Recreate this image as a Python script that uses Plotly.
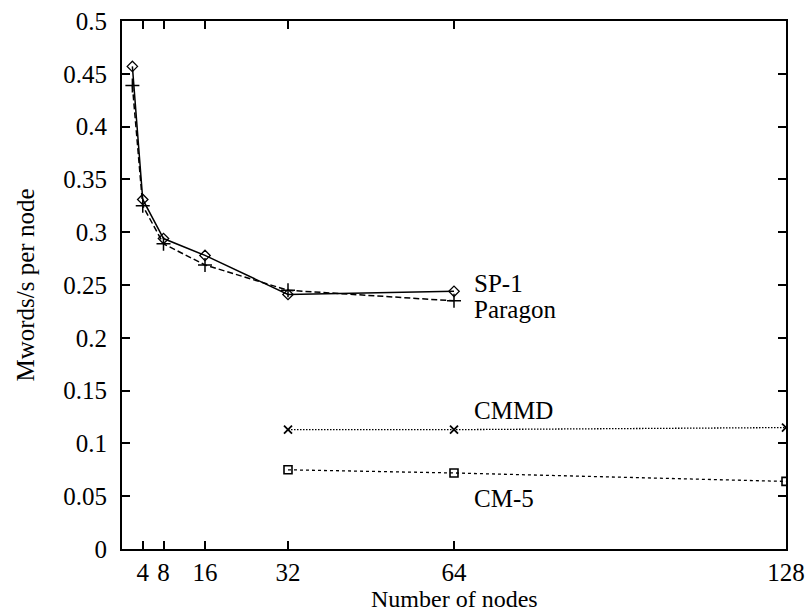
import plotly.graph_objects as go

sp1_x = [2, 4, 8, 16, 32, 64]
sp1_y = [0.457, 0.331, 0.294, 0.278, 0.241, 0.244]
paragon_x = [2, 4, 8, 16, 32, 64]
paragon_y = [0.439, 0.325, 0.289, 0.269, 0.245, 0.235]
cmmd_x = [32, 64, 128]
cmmd_y = [0.113, 0.113, 0.115]
cm5_x = [32, 64, 128]
cm5_y = [0.075, 0.072, 0.064]

x_ticks = [4, 8, 16, 32, 64, 128]
y_ticks = [0, 0.05, 0.1, 0.15, 0.2, 0.25, 0.3, 0.35, 0.4, 0.45, 0.5]
y_tick_text = ["0", "0.05", "0.1", "0.15", "0.2", "0.25", "0.3", "0.35", "0.4", "0.45", "0.5"]

labels = [("SP-1", 0.251), ("Paragon", 0.2265), ("CMMD", 0.1316), ("CM-5", 0.048)]
label_x = 67.5

FONT = "Liberation Serif"
FS = 25
BOTTOM = 65
fig = go.Figure()
fig.add_trace(go.Scatter(x=sp1_x, y=sp1_y, mode="lines+markers", name="SP-1",
                         line=dict(color="black", width=1.5),
                         marker=dict(symbol="diamond-open", size=8, color="black", line=dict(width=1.3))))
fig.add_trace(go.Scatter(x=paragon_x, y=paragon_y, mode="lines+markers", name="Paragon",
                         line=dict(color="black", width=1.5, dash="6px,3px"),
                         marker=dict(symbol="cross-thin-open", size=10, color="black", line=dict(width=1.5, color="black"))))
fig.add_trace(go.Scatter(x=cmmd_x, y=cmmd_y, mode="lines+markers", name="CMMD",
                         line=dict(color="black", width=1.3, dash="1.5px,1.5px"),
                         marker=dict(symbol="x-thin-open", size=8, color="black", line=dict(width=1.8, color="black"))))
fig.add_trace(go.Scatter(x=cm5_x, y=cm5_y, mode="lines+markers", name="CM-5",
                         line=dict(color="black", width=1.3, dash="3px,3px"),
                         marker=dict(symbol="square-open", size=8, color="black", line=dict(width=1.6))))

for txt, yv in labels:
    fig.add_annotation(x=label_x, y=yv, text=txt, showarrow=False, xanchor="left", yanchor="middle",
                       font=dict(family=FONT, size=FS, color="black"))

fig.add_annotation(xref="paper", yref="paper", x=0.5, y=0, yshift=-BOTTOM, xanchor="center", yanchor="bottom",
                   text="Number of nodes", showarrow=False, font=dict(family=FONT, size=24, color="black"))

fig.update_layout(
    width=807, height=614,
    margin=dict(l=122, r=21, t=21, b=BOTTOM),
    paper_bgcolor="white", plot_bgcolor="white",
    showlegend=False,
    font=dict(family=FONT, size=FS, color="black"),
)
fig.update_xaxes(range=[0, 128], tickvals=x_ticks, ticktext=[str(v) for v in x_ticks],
                 showgrid=False, zeroline=False, showline=True, linecolor="black", linewidth=2,
                 mirror="ticks", ticks="inside", ticklen=8, tickwidth=1.5, tickcolor="black",
                 ticklabelstandoff=0, automargin=False,
                 tickfont=dict(family=FONT, size=FS))
fig.update_yaxes(range=[0, 0.5], tickvals=y_ticks, ticktext=y_tick_text,
                 showgrid=False, zeroline=False, showline=True, linecolor="black", linewidth=2,
                 mirror="ticks", ticks="inside", ticklen=8, tickwidth=1.5, tickcolor="black",
                 ticklabelstandoff=8, automargin=False,
                 title=dict(text="Mwords/s per node", standoff=22, font=dict(family=FONT, size=FS)))

fig.write_html("out.html")
